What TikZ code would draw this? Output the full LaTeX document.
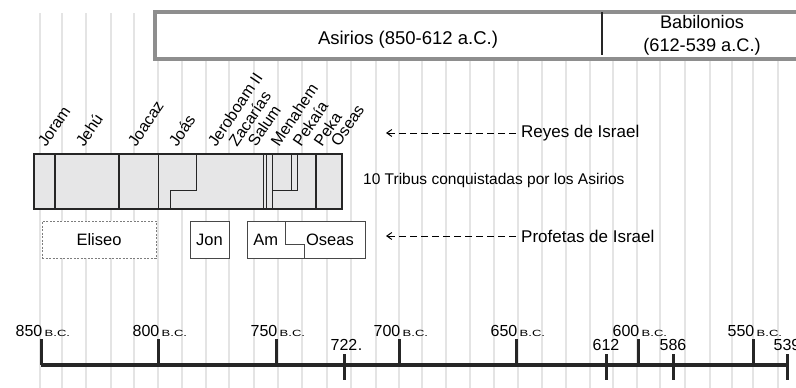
\documentclass[tikz,border=0pt]{standalone}
\usepackage{fontspec}
\setmainfont{Liberation Sans}
\usetikzlibrary{arrows.meta,positioning}
\definecolor{GridGray}{HTML}{E4E4E4}
\definecolor{BoxFill}{HTML}{E6E6E7}
\definecolor{Ink}{HTML}{262626}
\definecolor{FrameGray}{HTML}{8E8E8E}
\newcommand{\fsz}[1]{\fontsize{#1}{#1}\selectfont}
\newcommand{\bcmark}{\scalebox{1.45}[1]{B.C.}}

\tikzset{
  kingname/.style={rotate=56, anchor=base west, inner sep=0pt, font=\fsz{16}},
  kingline/.style={Ink, line width=1.5pt},
  prophetbox/.style={draw=Ink!85, fill=white, line width=0.8pt, minimum height=37pt, inner sep=0pt, font=\fsz{16.5}},
  legendtext/.style={anchor=west, inner sep=0pt, font=\fsz{17}},
  legendarrow/.style={-{Straight Barb[length=5pt,width=7pt]}, line width=1pt, dash pattern=on 7pt off 4pt, shorten <=5pt},
  yearnum/.style={anchor=base east, inner sep=0pt, font=\fsz{16}},
  bclabel/.style={anchor=base west, inner sep=0pt, font=\fsz{9}},
  minoryear/.style={anchor=base, inner sep=0pt, font=\fsz{16}},
  yeartick/.style={Ink, line width=3pt},
}

\begin{document}
\begin{tikzpicture}[x=1pt,y=-1pt]
  \useasboundingbox (0,0) rectangle (796,388);
  % vertical grid, every 10 years
  \foreach \gx in {40,62,86,111,134,158,182,206,229,254,278,302,327,351,376,399,422,446,470,494,518,542,566,590,613,637,660,685,710,732,753,778}
    \draw[GridGray, line width=1.5pt] (\gx,13) -- (\gx,388);

  % empires
  \fill[white] (155,12) rectangle (800,59);
  \draw[FrameGray, line width=3.5pt] (800,12) -- (155,12) -- (155,59) -- (800,59);
  \draw[Ink, line width=2.5pt] (602,12) -- (602,55);
  \node[font=\fsz{18.5}] (asirios) at (408,40) {Asirios (850-612 a.C.)};
  \node[font=\fontsize{18.2}{23}\selectfont, align=center] (babilonios) at (702,35) {Babilonios\\(612-539 a.C.)};

  % kings of Israel
  \foreach \kx/\kname in {46/Joram,84/Jehú,136/Joacaz,177/Joás,216/Jeroboam II,237/Zacarías,256/Salum,279/Menahem,301/Pekaía,322/Peka,339/Oseas}
    \node[kingname] (k\kname) at (\kx,148) {\kname};

  \node[draw=Ink, fill=BoxFill, line width=2pt, minimum width=308.5pt, minimum height=55pt, inner sep=0pt, anchor=north west] (reinos) at (32.5,153.3) {};
  \foreach \kx in {55,119,158.5,263.3,266.7,272.7,316}
    \draw[kingline] (\kx,153.3) -- (\kx,208.3);
  \draw[kingline] (196.7,153.3) -- (196.7,190.7) -- (170.5,190.7) -- (170.5,208.3);
  \draw[kingline] (291.7,153.3) -- (291.7,190.7);
  \draw[kingline] (297.7,153.3) -- (297.7,190.7) -- (272.7,190.7);
  \node[anchor=west, inner sep=0pt, font=\fsz{15.5}] (tribus) at (363,180) {10 Tribus conquistadas por los Asirios};

  % prophets
  \node[prophetbox, draw=Ink!60, dash pattern=on 2pt off 1.5pt, minimum width=114pt] (eliseo) at (99,239.5) {Eliseo};
  \node[prophetbox, minimum width=39pt] (jonas) at (209.5,239.5) {Jon};
  \node[prophetbox, minimum width=117.7pt] (amos) at (306.2,239.5) {};
  \node[inner sep=0pt, font=\fsz{16.5}] (am) at (265.7,240) {Am};
  \node[inner sep=0pt, font=\fsz{16.5}] (oseas) at (330,240) {Oseas};
  \draw[Ink!85, line width=0.8pt] (285.7,221) -- (285.7,244) -- (304.3,244) -- (304.3,257.7);

  % legend
  \node[legendtext] (reyes) at (521,133) {Reyes de Israel};
  \coordinate (reyestip) at (386,133);
  \draw[legendarrow] (reyes.west) -- (reyestip);
  \node[legendtext] (profetas) at (521,236) {Profetas de Israel};
  \coordinate (profetastip) at (386,236);
  \draw[legendarrow] (profetas.west) -- (profetastip);

  % time line
  \draw[Ink, line width=3.3pt] (41,365) -- (787,365);
  \foreach \tx/\yr in {41/850,158/800,276/750,399/700,516/650,638/600,753/550}{
    \draw[yeartick] (\tx,339) -- (\tx,365);
    \node[yearnum] (y\yr) at (\tx+1.5,336) {\yr};
    \node[bclabel] (bc\yr) at ([xshift=2pt]y\yr.base east) {\bcmark};
  }
  \foreach \tx/\yr in {344/722,606/612,673/586,787/539}{
    \draw[yeartick] (\tx,354) -- (\tx,380);
    \node[minoryear] (m\yr) at (\tx,350) {\yr};
  }
  \node[anchor=base west, inner sep=0pt, font=\fsz{16}] (dot722) at (m722.base east) {.};
\end{tikzpicture}
\end{document}
